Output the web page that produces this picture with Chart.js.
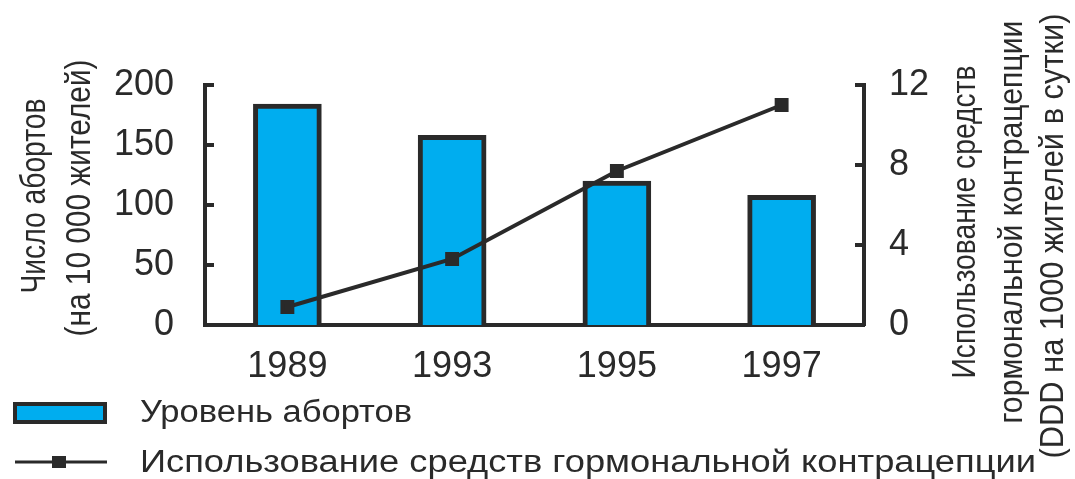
<!DOCTYPE html>
<html><head><meta charset="utf-8">
<script src="https://cdn.jsdelivr.net/npm/chart.js@4.4.1/dist/chart.umd.min.js"></script>
<style>html,body{margin:0;padding:0;background:#fff;}#wrap{width:1075px;height:479px;position:relative;}</style>
</head><body><div id="wrap"><canvas id="c"></canvas></div>
<script>
const categories = ['1989', '1993', '1995', '1997'];
const abortionRate = [184, 158, 120, 108];
const contraceptionUse = [0.9, 3.3, 7.7, 11.0];
const leftTickValues = [0, 50, 100, 150, 200];
const rightTickValues = [0, 4, 8, 12];
const barLabel = 'Уровень абортов';
const lineLabel = 'Использование средств гормональной контрацепции';
const leftTitle = ['Число абортов', '(на 10 000 жителей)'];
const rightTitle = ['Использование средств', 'гормональной контрацепции', '(DDD на 1000 жителей в сутки)'];

const INK = '#2a2a2a';
const BLUE = '#00adef';
const FAM = "'Liberation Sans', Arial, sans-serif";
const TICK_FONT = {family: FAM, size: 36};

// draw text squeezed/stretched along its reading direction to a given length
function fitText(ctx, txt, x, y, len, size, rot) {
  ctx.save();
  ctx.font = size + 'px ' + FAM;
  const w = ctx.measureText(txt).width;
  ctx.translate(x, y);
  if (rot) ctx.rotate(rot);
  ctx.scale(len / w, 1);
  ctx.fillText(txt, 0, 0);
  ctx.restore();
}

const extras = {
  id: 'extras',
  afterDraw(chart) {
    const ctx = chart.ctx;
    const y = chart.scales.y, y1 = chart.scales.y1;
    ctx.save();
    ctx.strokeStyle = INK; ctx.lineWidth = 4;
    // inward tick marks
    y.ticks.forEach(t => { if (t.value === 0) return; const p = y.getPixelForValue(t.value);
      ctx.beginPath(); ctx.moveTo(y.right - 2, p); ctx.lineTo(y.right + 9, p); ctx.stroke(); });
    y1.ticks.forEach(t => { if (t.value === 0) return; const p = y1.getPixelForValue(t.value);
      ctx.beginPath(); ctx.moveTo(y1.left + 2, p); ctx.lineTo(y1.left - 9, p); ctx.stroke(); });
    // axis titles (both read bottom-to-top)
    ctx.fillStyle = INK; ctx.textAlign = 'center'; ctx.textBaseline = 'alphabetic';
    const R = -Math.PI / 2;
    fitText(ctx, leftTitle[0], 45, 196, 195, 35, R);
    fitText(ctx, leftTitle[1], 90, 198, 277, 35, R);
    fitText(ctx, rightTitle[0], 975, 222, 313, 33, R);
    fitText(ctx, rightTitle[1], 1022, 222, 403, 33, R);
    fitText(ctx, rightTitle[2], 1063, 236, 445, 33, R);
    // legend
    const bar = chart.data.datasets.find(d => d.type === 'bar');
    const line = chart.data.datasets.find(d => d.type === 'line');
    ctx.textAlign = 'left';
    ctx.fillStyle = bar.backgroundColor; ctx.fillRect(15, 404, 90, 18);
    ctx.strokeStyle = bar.borderColor; ctx.lineWidth = 4; ctx.strokeRect(15, 404, 90, 18);
    ctx.fillStyle = INK;
    fitText(ctx, bar.label, 140, 422, 272, 31, 0);
    ctx.strokeStyle = line.borderColor; ctx.lineWidth = 3;
    ctx.beginPath(); ctx.moveTo(15, 462); ctx.lineTo(107, 462); ctx.stroke();
    ctx.fillStyle = line.borderColor; ctx.fillRect(52, 456, 14, 12);
    ctx.fillStyle = INK;
    fitText(ctx, line.label, 140, 472, 896, 31, 0);
    ctx.restore();
  }
};

new Chart(document.getElementById('c'), {
  data: {
    labels: categories,
    datasets: [
      {type: 'line', label: lineLabel, data: contraceptionUse, yAxisID: 'y1', order: 0,
       borderColor: INK, borderWidth: 4, pointStyle: 'rect', pointRadius: 7,
       pointBackgroundColor: INK, pointBorderColor: INK, tension: 0},
      {type: 'bar', label: barLabel, data: abortionRate, yAxisID: 'y', order: 1,
       backgroundColor: BLUE, borderColor: INK, borderWidth: 5, barThickness: 68}
    ]
  },
  options: {
    responsive: true, maintainAspectRatio: false, animation: false,
    layout: {padding: {top: 85, left: 0, right: 0, bottom: 0}},
    plugins: {legend: {display: false}, tooltip: {enabled: false}},
    scales: {
      x: {offset: true, grid: {display: false}, border: {display: true, color: INK, width: 4},
          ticks: {color: INK, font: TICK_FONT, padding: 12, maxRotation: 0},
          afterFit: s => { s.height = 154; }},
      y: {position: 'left', min: 0, max: 200,
          afterBuildTicks: s => { s.ticks = leftTickValues.map(v => ({value: v})); },
          grid: {display: false}, border: {display: true, color: INK, width: 4},
          ticks: {color: INK, font: TICK_FONT, padding: 23},
          afterFit: s => { s.width = 205; }},
      y1: {position: 'right', min: 0, max: 12,
          afterBuildTicks: s => { s.ticks = rightTickValues.map(v => ({value: v})); },
          grid: {display: false}, border: {display: true, color: INK, width: 4},
          ticks: {color: INK, font: TICK_FONT, padding: 17},
          afterFit: s => { s.width = 211; }}
    }
  },
  plugins: [extras]
});
</script></body></html>
